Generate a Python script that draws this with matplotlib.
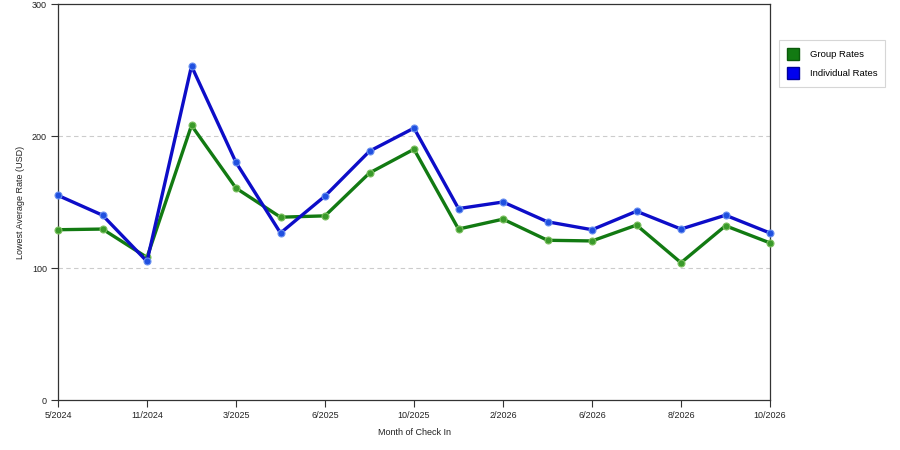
import matplotlib
matplotlib.use("Agg")
import matplotlib.pyplot as plt
from matplotlib.patches import Patch

plt.rcParams['font.family'] = ['Liberation Sans', 'DejaVu Sans']

months = ["5/2024", "8/2024", "11/2024", "1/2025", "3/2025", "5/2025", "6/2025", "8/2025",
          "10/2025", "12/2025", "2/2026", "4/2026", "6/2026", "7/2026", "8/2026", "9/2026", "10/2026"]
group_rates = [129, 129.5, 108, 208, 160.5, 138.5, 139.5, 172, 190, 129.5, 137, 121, 120.5, 132.5, 104, 132, 119]
individual_rates = [155, 140, 105, 253, 180, 126.5, 154.5, 188.5, 206, 145, 150, 135, 129, 143, 129.5, 140, 126.5]
tick_labels = ["5/2024", "11/2024", "3/2025", "6/2025", "10/2025", "2/2026", "6/2026", "8/2026", "10/2026"]

fig = plt.figure(figsize=(9, 4.5), dpi=100)
ax = fig.add_axes([58 / 900, 50 / 450, 712 / 900, 396 / 450])

x = list(range(len(months)))
ax.plot(x, group_rates, color="#127a12", lw=2.4, marker="o", ms=5,
        mfc="#3a9a2a", mec="#7cc060", mew=0.8, solid_joinstyle="round", zorder=3, clip_on=False)
ax.plot(x, individual_rates, color="#0d0dc8", lw=2.4, marker="o", ms=5,
        mfc="#2050e0", mec="#6a90f0", mew=0.8, solid_joinstyle="round", zorder=3, clip_on=False)

ax.set_xlim(0, len(months) - 1)
ax.set_ylim(0, 300)
ax.set_yticks([0, 100, 200, 300])
ticks = [months.index(t) for t in tick_labels]
ax.set_xticks(ticks)
ax.set_xticklabels(tick_labels)
ax.tick_params(labelsize=6.5, length=5, width=0.8, color="#333333", labelcolor="#222222", pad=3)

for yv in [100, 200]:
    ax.axhline(yv, color="#cccccc", lw=0.8, ls=(0, (4, 3)), zorder=1)

for s in ax.spines.values():
    s.set_color("#333333")
    s.set_linewidth(0.9)

ax.set_xlabel("Month of Check In", fontsize=6.5, color="#222222", labelpad=6)
ax.set_ylabel("Lowest Average Rate (USD)", fontsize=6.5, color="#222222", labelpad=5)

handles = [Patch(facecolor="#127a12", edgecolor="#0a5a0a", label="Group Rates"),
           Patch(facecolor="#0000ee", edgecolor="#00009a", label="Individual Rates")]
leg = fig.legend(handles=handles, loc="upper left", bbox_to_anchor=(779 / 900, 1 - 40 / 450),
                 borderaxespad=0, fontsize=6.8, frameon=True, fancybox=False,
                 handlelength=1.3, handleheight=1.6, handletextpad=1.1, borderpad=0.85,
                 labelspacing=0.75)
leg.get_frame().set_edgecolor("#cccccc")
leg.get_frame().set_linewidth(0.8)

fig.savefig("out.png", dpi=100)
